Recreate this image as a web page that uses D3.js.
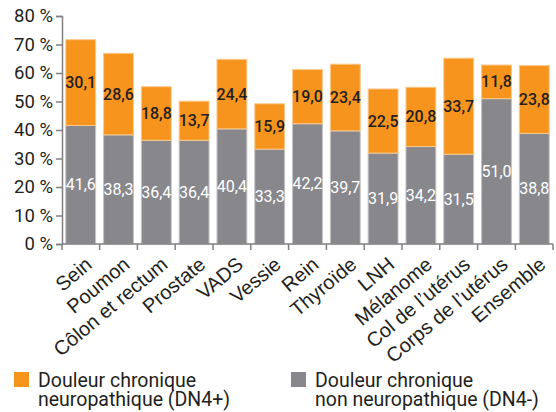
<!DOCTYPE html>
<html>
<head>
<meta charset="utf-8">
<script src="https://cdn.jsdelivr.net/npm/d3@7"></script>
<style>
  body { margin: 0; background: #fff; }
  svg { display: block; }
</style>
</head>
<body>
<div id="chart"></div>
<script>
const categories = ['Sein', 'Poumon', 'Côlon et rectum', 'Prostate', 'VADS', 'Vessie', 'Rein',
  'Thyroïde', 'LNH', 'Mélanome', "Col de l’utérus", "Corps de l’utérus", 'Ensemble'];
const dn4Minus = [41.6, 38.3, 36.4, 36.4, 40.4, 33.3, 42.2, 39.7, 31.9, 34.2, 31.5, 51.0, 38.8];
const dn4Plus = [30.1, 28.6, 18.8, 13.7, 24.4, 15.9, 19.0, 23.4, 22.5, 20.8, 33.7, 11.8, 23.8];
const yTicks = [0, 10, 20, 30, 40, 50, 60, 70, 80];
const legendLabels = [
  ['Douleur chronique', 'neuropathique (DN4+)'],
  ['Douleur chronique', 'non neuropathique (DN4-)']
];

const W = 556, H = 412;
const margin = { left: 62, right: 3, top: 16, bottom: 168 };
const width = W - margin.left - margin.right;
const height = H - margin.top - margin.bottom;

const orange = '#f7941d';
const grey = '#87878c';
const fmt = v => v.toFixed(1).replace('.', ',');

const svg = d3.select('#chart').append('svg').attr('width', W).attr('height', H);
const g = svg.append('g').attr('transform', 'translate(' + margin.left + ',' + margin.top + ')');

const x = d3.scaleBand().domain(categories).range([0, width]).paddingInner(0.21).paddingOuter(0.1);
const y = d3.scaleLinear().domain([0, 80]).range([height, 0]);

const data = categories.map((c, i) => ({ cat: c, neg: dn4Minus[i], pos: dn4Plus[i] }));

// grey part (DN4-)
g.selectAll('rect.neg').data(data).enter().append('rect')
  .attr('class', 'neg')
  .attr('x', d => x(d.cat))
  .attr('width', x.bandwidth())
  .attr('y', d => y(d.neg))
  .attr('height', d => y(0) - y(d.neg))
  .attr('fill', grey)
  .attr('stroke', '#c4c4c7')
  .attr('stroke-width', 1);

// orange part (DN4+)
g.selectAll('rect.pos').data(data).enter().append('rect')
  .attr('class', 'pos')
  .attr('x', d => x(d.cat))
  .attr('width', x.bandwidth())
  .attr('y', d => y(d.neg + d.pos))
  .attr('height', d => y(d.neg) - y(d.neg + d.pos))
  .attr('fill', orange)
  .attr('stroke', '#fbc98d')
  .attr('stroke-width', 1);

// value labels
g.selectAll('text.negLbl').data(data).enter().append('text')
  .attr('x', d => x(d.cat) + x.bandwidth() / 2)
  .attr('y', d => y(d.neg / 2))
  .attr('dy', '0.35em')
  .attr('text-anchor', 'middle')
  .attr('font-family', 'Roboto, sans-serif')
  .attr('font-size', '16px')
  .attr('fill', '#fff')
  .text(d => fmt(d.neg));

g.selectAll('text.posLbl').data(data).enter().append('text')
  .attr('x', d => x(d.cat) + x.bandwidth() / 2)
  .attr('y', d => y(d.neg + d.pos / 2))
  .attr('dy', '0.35em')
  .attr('text-anchor', 'middle')
  .attr('font-family', 'Roboto, sans-serif')
  .attr('font-size', '16px')
  .attr('font-weight', 500)
  .attr('fill', '#231f20')
  .text(d => fmt(d.pos));

// Y axis
const yAxis = g.append('g')
  .call(d3.axisLeft(y).tickValues(yTicks).tickSize(6).tickFormat(d => d + ' %'));
yAxis.select('.domain').attr('stroke', '#808080').attr('stroke-width', 1.5);
yAxis.selectAll('.tick line').attr('stroke', '#808080').attr('stroke-width', 1.5);
yAxis.selectAll('.tick text')
  .attr('x', -9)
  .attr('font-family', 'Roboto, sans-serif')
  .attr('font-size', '18.5px')
  .attr('fill', '#231f20');

// X axis with ticks between bars
const xAxis = g.append('g').attr('transform', 'translate(0,' + height + ')');
xAxis.append('line')
  .attr('x1', 0).attr('x2', width)
  .attr('stroke', '#808080').attr('stroke-width', 1.5);
const bounds = d3.range(categories.length + 1).map(i => i === 0 ? 0 :
  (i === categories.length ? width : x(categories[i]) - x.step() * x.paddingInner() / 2));
xAxis.selectAll('line.tk').data(bounds).enter().append('line')
  .attr('x1', d => d).attr('x2', d => d)
  .attr('y1', 0).attr('y2', 6)
  .attr('stroke', '#808080').attr('stroke-width', 1.5);
xAxis.selectAll('text.cat').data(categories).enter().append('text')
  .attr('transform', d => 'translate(' + (x(d) + x.bandwidth() / 2 + 3) + ',11) rotate(-40)')
  .attr('text-anchor', 'end')
  .attr('dy', '0.75em')
  .attr('font-family', 'Liberation Sans, Arial, sans-serif')
  .attr('font-size', '20px')
  .attr('fill', '#231f20')
  .text(d => d);

// Legend
const legend = svg.append('g');
const legItems = [
  { color: orange, x: 14, lines: legendLabels[0] },
  { color: grey, x: 291, lines: legendLabels[1] }
];
legItems.forEach(it => {
  legend.append('rect')
    .attr('x', it.x).attr('y', 372)
    .attr('width', 15).attr('height', 15)
    .attr('fill', it.color);
  it.lines.forEach((l, j) => {
    legend.append('text')
      .attr('x', it.x + 24)
      .attr('y', 387 + j * 19)
      .attr('font-family', 'Roboto, sans-serif')
      .attr('font-size', '19.5px')
      .attr('fill', '#231f20')
      .text(l);
  });
});
</script>
</body>
</html>
